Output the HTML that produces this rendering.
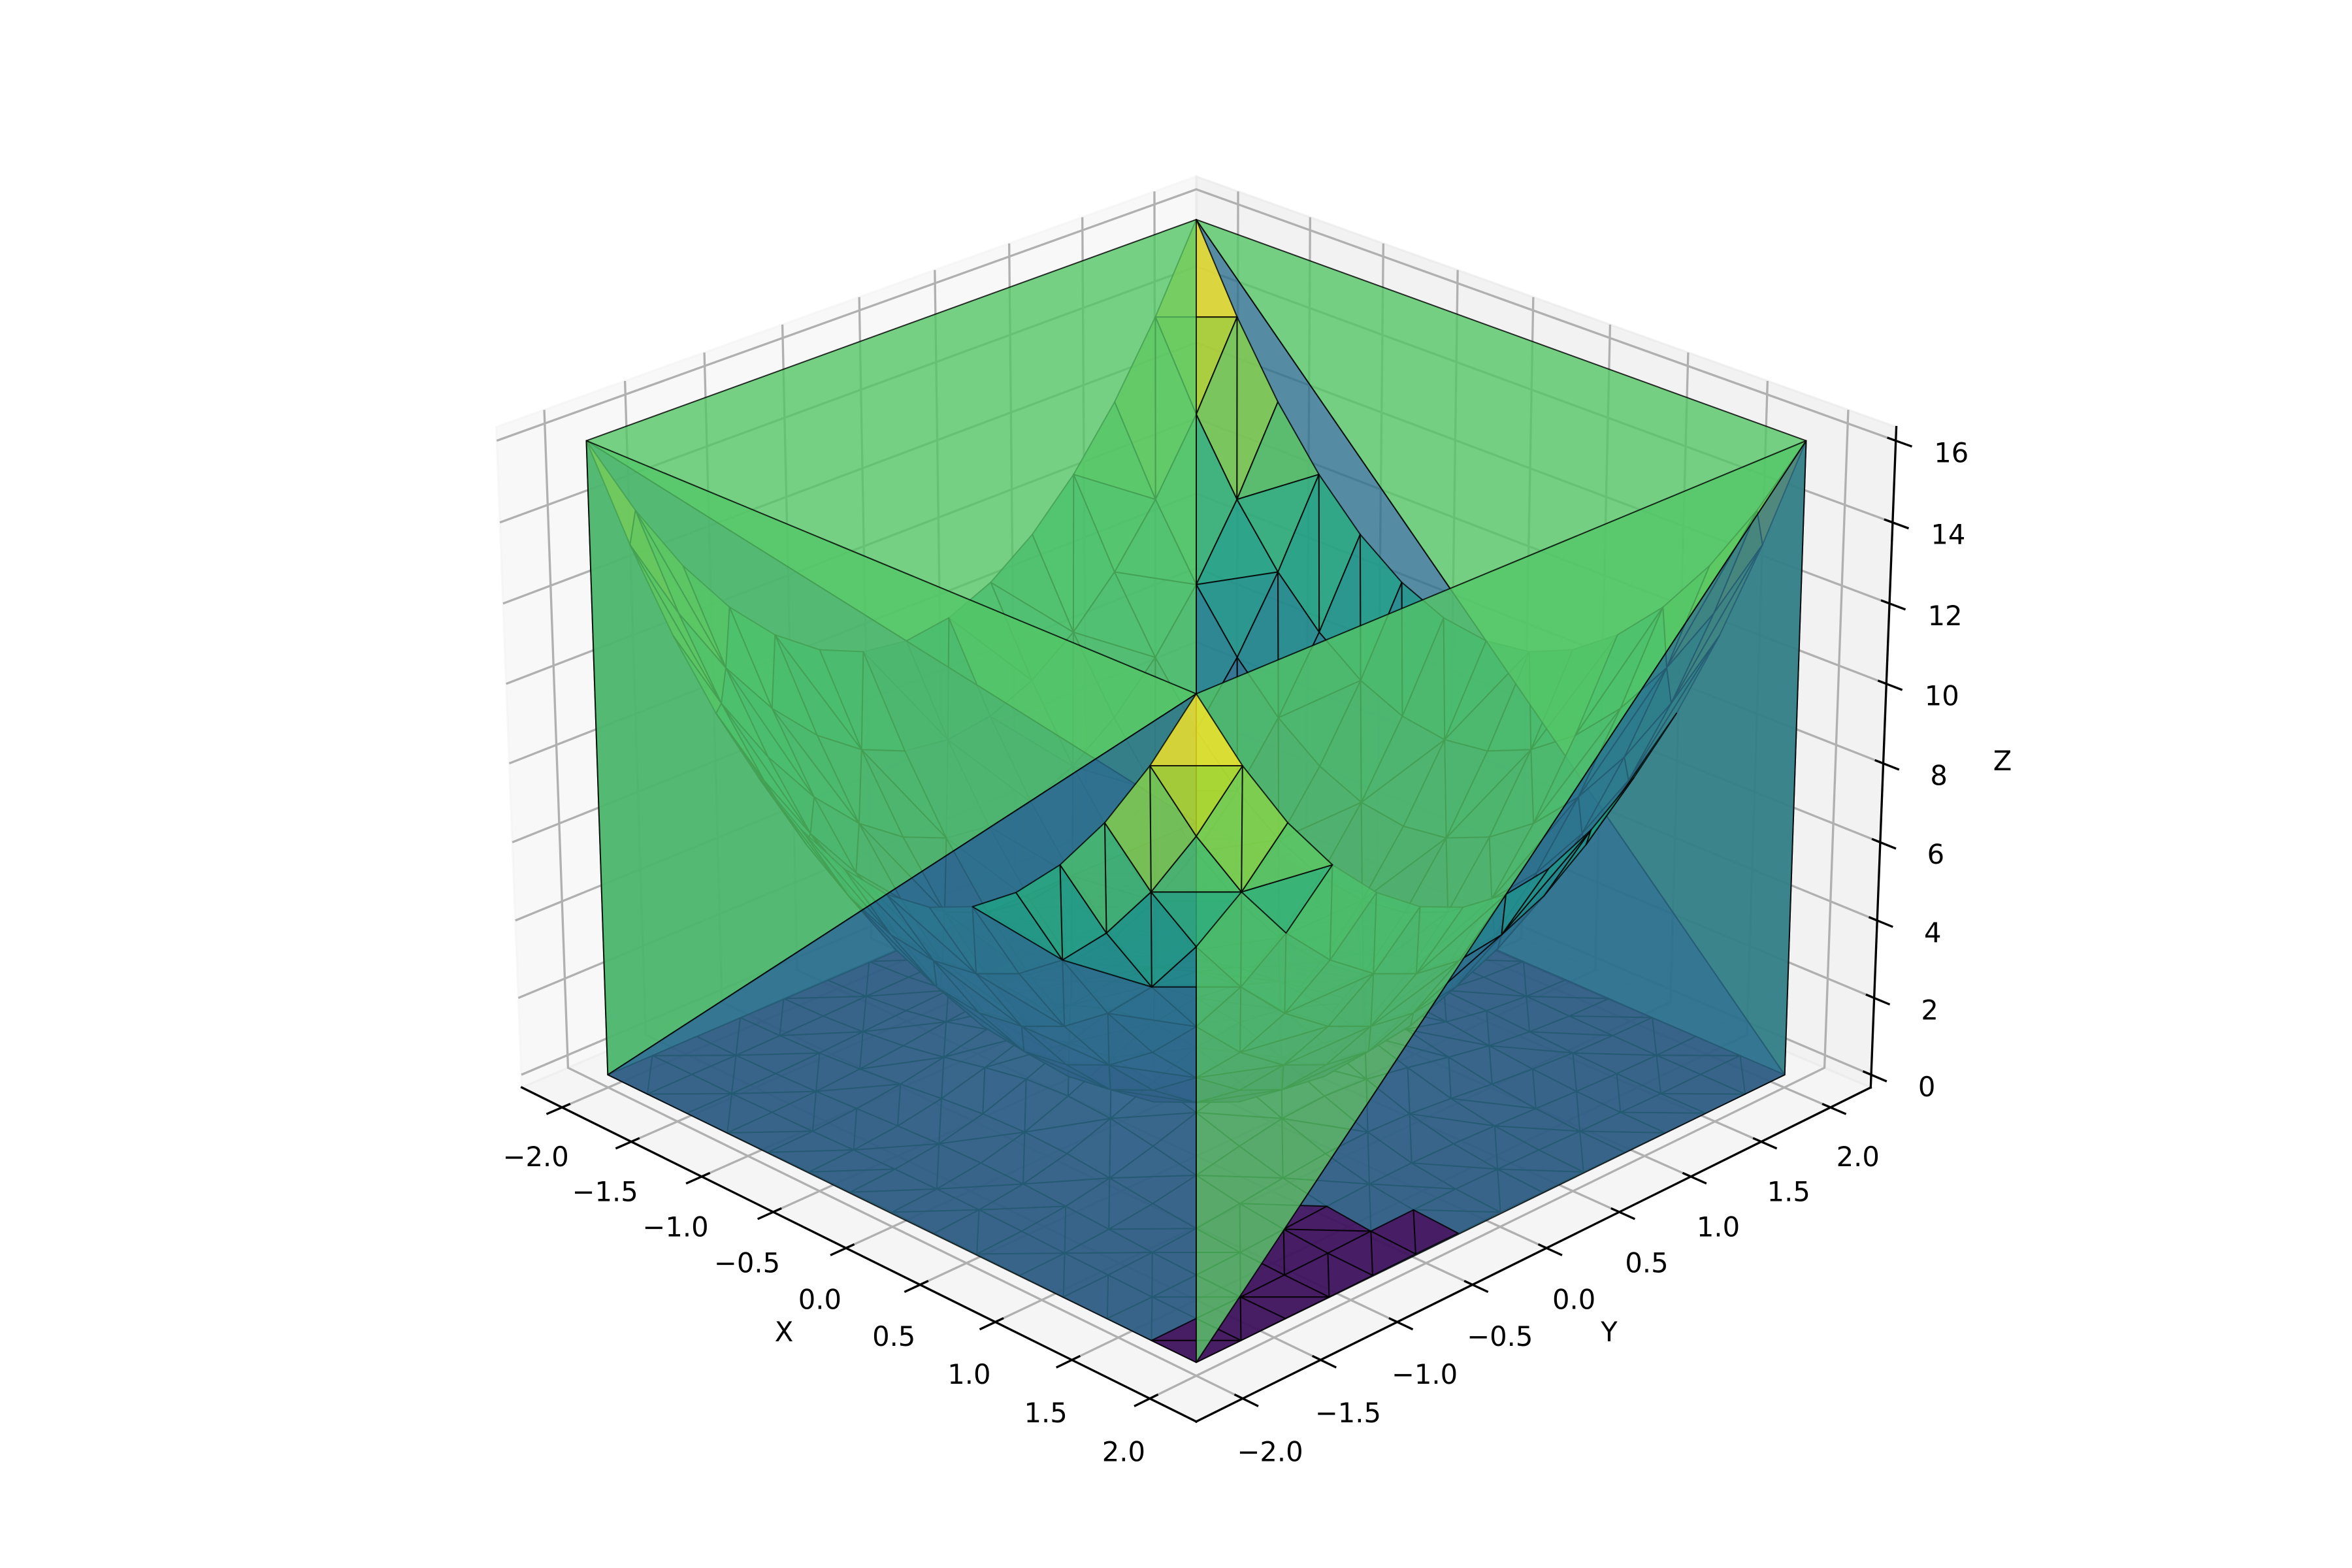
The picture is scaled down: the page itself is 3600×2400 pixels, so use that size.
<!DOCTYPE html>
<html lang="en">
<head>
<meta charset="utf-8">
<title>3D triangulated surface</title>
<style>
html,body{margin:0;padding:0;background:#fff;}
svg{display:block;}
text{font-family:"DejaVu Sans",sans-serif;font-size:41.67px;fill:#000;}
</style>
</head>
<body>
<svg id="chart" xmlns="http://www.w3.org/2000/svg" width="3600" height="2400" viewBox="0 0 3600 2400">
  <rect x="0" y="0" width="3600" height="2400" fill="#ffffff"/>
  <g id="panes"></g>
  <g id="grid"></g>
  <g id="axes"></g>
  <g id="surface"></g>
  <g id="labels"></g>
  <text x="1200" y="2053" text-anchor="middle">X</text>
  <text x="2463" y="2053" text-anchor="middle">Y</text>
  <text x="3065" y="1179" text-anchor="middle">Z</text>
</svg>
<script>
const xGrid = [-2,-1.714,-1.429,-1.143,-0.857,-0.571,-0.286,0,0.286,0.571,0.857,1.143,1.429,1.714,2];
const yGrid = [-2,-1.714,-1.429,-1.143,-0.857,-0.571,-0.286,0,0.286,0.571,0.857,1.143,1.429,1.714,2];
const bowlZ = [
[16,13.88,12.08,10.61,9.47,8.65,8.16,8,8.16,8.65,9.47,10.61,12.08,13.88,16],
[13.88,11.76,9.96,8.49,7.35,6.53,6.04,5.88,6.04,6.53,7.35,8.49,9.96,11.76,13.88],
[12.08,9.96,8.16,6.69,5.55,4.73,4.24,4.08,4.24,4.73,5.55,6.69,8.16,9.96,12.08],
[10.61,8.49,6.69,5.22,4.08,3.26,2.77,2.61,2.77,3.26,4.08,5.22,6.69,8.49,10.61],
[9.47,7.35,5.55,4.08,2.94,2.12,1.63,1.47,1.63,2.12,2.94,4.08,5.55,7.35,9.47],
[8.65,6.53,4.73,3.26,2.12,1.30,0.81,0.65,0.81,1.30,2.12,3.26,4.73,6.53,8.65],
[8.16,6.04,4.24,2.77,1.63,0.81,0.33,0.16,0.33,0.81,1.63,2.77,4.24,6.04,8.16],
[8,5.88,4.08,2.61,1.47,0.65,0.16,0,0.16,0.65,1.47,2.61,4.08,5.88,8],
[8.16,6.04,4.24,2.77,1.63,0.81,0.33,0.16,0.33,0.81,1.63,2.77,4.24,6.04,8.16],
[8.65,6.53,4.73,3.26,2.12,1.30,0.81,0.65,0.81,1.30,2.12,3.26,4.73,6.53,8.65],
[9.47,7.35,5.55,4.08,2.94,2.12,1.63,1.47,1.63,2.12,2.94,4.08,5.55,7.35,9.47],
[10.61,8.49,6.69,5.22,4.08,3.26,2.77,2.61,2.77,3.26,4.08,5.22,6.69,8.49,10.61],
[12.08,9.96,8.16,6.69,5.55,4.73,4.24,4.08,4.24,4.73,5.55,6.69,8.16,9.96,12.08],
[13.88,11.76,9.96,8.49,7.35,6.53,6.04,5.88,6.04,6.53,7.35,8.49,9.96,11.76,13.88],
[16,13.88,12.08,10.61,9.47,8.65,8.16,8,8.16,8.65,9.47,10.61,12.08,13.88,16]
];
const floorZ = [
[0,0,0.01,0.01,0.02,0.03,0.03,0.04,0.03,0.03,0.02,0.01,0.01,0,0],
[0,0.01,0.01,0.03,0.05,0.08,0.10,0.11,0.10,0.08,0.05,0.03,0.01,0.01,0],
[0.01,0.01,0.03,0.07,0.13,0.19,0.24,0.26,0.24,0.19,0.13,0.07,0.03,0.01,0.01],
[0.01,0.03,0.07,0.15,0.26,0.39,0.50,0.54,0.50,0.39,0.26,0.15,0.07,0.03,0.01],
[0.02,0.05,0.13,0.26,0.46,0.69,0.89,0.96,0.89,0.69,0.46,0.26,0.13,0.05,0.02],
[0.03,0.08,0.19,0.39,0.69,1.04,1.33,1.45,1.33,1.04,0.69,0.39,0.19,0.08,0.03],
[0.03,0.10,0.24,0.50,0.89,1.33,1.70,1.85,1.70,1.33,0.89,0.50,0.24,0.10,0.03],
[0.04,0.11,0.26,0.54,0.96,1.45,1.85,2,1.85,1.45,0.96,0.54,0.26,0.11,0.04],
[0.03,0.10,0.24,0.50,0.89,1.33,1.70,1.85,1.70,1.33,0.89,0.50,0.24,0.10,0.03],
[0.03,0.08,0.19,0.39,0.69,1.04,1.33,1.45,1.33,1.04,0.69,0.39,0.19,0.08,0.03],
[0.02,0.05,0.13,0.26,0.46,0.69,0.89,0.96,0.89,0.69,0.46,0.26,0.13,0.05,0.02],
[0.01,0.03,0.07,0.15,0.26,0.39,0.50,0.54,0.50,0.39,0.26,0.15,0.07,0.03,0.01],
[0.01,0.01,0.03,0.07,0.13,0.19,0.24,0.26,0.24,0.19,0.13,0.07,0.03,0.01,0.01],
[0,0.01,0.01,0.03,0.05,0.08,0.10,0.11,0.10,0.08,0.05,0.03,0.01,0.01,0],
[0,0,0.01,0.01,0.02,0.03,0.03,0.04,0.03,0.03,0.02,0.01,0.01,0,0]
];
/* Cell diagonals, row = steps back from x = 2, column = steps from y = -2. */
const cellDiagonals = [
"HVHVVVHVHVHHHV",
"VHVVHVHHVHVVVH",
"VVHVHHVVHHVVHV",
"VHHVHVHVVVVHHH",
"HVVHVHVHVHHVVH",
"VHHVHVHVHVHVHV",
"HHVHVHVHVHVHVH",
"HVHVVHVHHVHVHV",
"HHVVHVHVHHVHVV",
"HVVVHHVHVHHVHV",
"HVHHVHHVHVHVVV",
"VHVVHVHHVHVVHH",
"HVHHVHVHHVHHVV",
"VHVVHVHVHHVHVH"
];
/* Long wall triangles: [sheet, x index, y index] for each corner; b = bowl, f = floor. */
const wallTriangles = [
[["b",0,0],["b",14,0],["f",0,0]],
[["b",14,0],["f",14,0],["f",0,0]],
[["b",14,0],["b",14,14],["f",14,0]],
[["b",14,14],["f",14,14],["f",14,0]],
[["b",0,0],["b",0,14],["f",0,14]],
[["b",0,0],["f",0,0],["f",0,14]],
[["b",0,14],["b",14,14],["f",14,14]],
[["b",0,14],["f",0,14],["f",14,14]]
];
const xTicks = [-2,-1.5,-1,-0.5,0,0.5,1,1.5,2];
const yTicks = [-2,-1.5,-1,-0.5,0,0.5,1,1.5,2];
const zTicks = [0,2,4,6,8,10,12,14,16];
const xTickLabels = ["\u22122.0","\u22121.5","\u22121.0","\u22120.5","0.0","0.5","1.0","1.5","2.0"];
const yTickLabels = ["\u22122.0","\u22121.5","\u22121.0","\u22120.5","0.0","0.5","1.0","1.5","2.0"];
const zTickLabels = ["0","2","4","6","8","10","12","14","16"];
const surfaceAlpha = 0.8;
const viridisStops = ["#440154","#471365","#482475","#463480","#414487","#3b528b","#355f8d","#2f6c8e","#2a788e","#25848e","#21918c","#1f9e89","#22a884","#2fb47c","#44bf70","#5ec962","#7ad151","#9bd93c","#bddf26","#dfe318","#fde725"];

/* Camera: a symmetric perspective projection. */
const cam = {cx:1831, cy:1168.5, A:458.4, B:193.75, C:485.1, alpha:0.03305, beta:0.01791, sortBeta:0.0181};
const edge = 2.294, zLow = -0.333, zHigh = 16.333;
const tickIn = 0.046, tickOut = 0.092;
const NS = "http://www.w3.org/2000/svg";

function depthW(x,y,z){
  const xn=x/2, yn=y/2, zn=(z-8)/8;
  return 1-cam.alpha*(xn-yn)-cam.beta*zn;
}
function sortW(x,y,z){
  const xn=x/2, yn=y/2, zn=(z-8)/8;
  return 1-cam.alpha*(xn-yn)-cam.sortBeta*zn;
}
function project(x,y,z){
  const xn=x/2, yn=y/2, zn=(z-8)/8;
  const w=depthW(x,y,z);
  return [cam.cx+cam.A*(xn+yn)/w, cam.cy+(cam.B*(xn-yn)-cam.C*zn)/w];
}
function pointsAttr(list){
  return list.map(function(p){const q=project(p[0],p[1],p[2]);return q[0].toFixed(2)+","+q[1].toFixed(2);}).join(" ");
}
function viridis(t){
  t=Math.max(0,Math.min(1,t));
  const f=t*(viridisStops.length-1), i=Math.min(Math.floor(f),viridisStops.length-2), u=f-i;
  const a=viridisStops[i], b=viridisStops[i+1];
  const ch=function(s,o){return parseInt(s.substr(o,2),16);};
  const mix=function(o){return Math.round(ch(a,o)+(ch(b,o)-ch(a,o))*u);};
  return "rgb("+mix(1)+","+mix(3)+","+mix(5)+")";
}
function vertex(sheet,xi,yj){
  return [xGrid[xi],yGrid[yj],(sheet==="b"?bowlZ:floorZ)[xi][yj]];
}
function shape(tag,parent,attrs){
  const el=document.createElementNS(NS,tag);
  for(const k in attrs){el.setAttribute(k,attrs[k]);}
  parent.appendChild(el);
  return el;
}

/* Panes */
const panesG=document.getElementById("panes");
const paneX=shape("polygon",panesG,{points:pointsAttr([[-edge,-edge,zLow],[-edge,edge,zLow],[-edge,edge,zHigh],[-edge,-edge,zHigh]]),fill:"rgb(242,242,242)","fill-opacity":0.5,stroke:"rgb(242,242,242)","stroke-opacity":0.5,"stroke-width":3.3});


const paneY=shape("polygon",panesG,{points:pointsAttr([[-edge,edge,zLow],[edge,edge,zLow],[edge,edge,zHigh],[-edge,edge,zHigh]]),fill:"rgb(230,230,230)","fill-opacity":0.5,stroke:"rgb(230,230,230)","stroke-opacity":0.5,"stroke-width":3.3});


const paneZ=shape("polygon",panesG,{points:pointsAttr([[-edge,-edge,zLow],[edge,-edge,zLow],[edge,edge,zLow],[-edge,edge,zLow]]),fill:"rgb(236,236,236)","fill-opacity":0.5,stroke:"rgb(236,236,236)","stroke-opacity":0.5,"stroke-width":3.3});



/* Grid */
const gridG=document.getElementById("grid");
const gridStyle={fill:"none",stroke:"#b0b0b0","stroke-width":3.33};
function gridLine(list){
  return shape("polyline",gridG,Object.assign({points:pointsAttr(list)},gridStyle));
}
xTicks.forEach(function(x){
  const g=gridLine([[x,-edge,zLow],[x,edge,zLow],[x,edge,zHigh]]);
  
  
});
yTicks.forEach(function(y){
  const g=gridLine([[edge,y,zLow],[-edge,y,zLow],[-edge,y,zHigh]]);
  
  
});
zTicks.forEach(function(z){
  const g=gridLine([[-edge,-edge,z],[-edge,edge,z],[edge,edge,z]]);
  
  
});

/* Axis lines and tick marks */
const axesG=document.getElementById("axes");
const axisStyle={fill:"none",stroke:"#000","stroke-width":3.33,"stroke-linecap":"square"};
function axisLine(list){
  return shape("polyline",axesG,Object.assign({points:pointsAttr(list)},axisStyle));
}
const xAxisLine=axisLine([[-edge,-edge,zLow],[edge,-edge,zLow]]);


const yAxisLine=axisLine([[edge,-edge,zLow],[edge,edge,zLow]]);


const zAxisLine=axisLine([[edge,edge,zLow],[edge,edge,zHigh]]);



const labelsG=document.getElementById("labels");
function tickLabel(point,dx,dy,str){
  const q=project(point[0],point[1],point[2]);
  const t=shape("text",labelsG,{x:(q[0]+dx).toFixed(1),y:(q[1]+dy+15).toFixed(1),"text-anchor":"middle"});
  t.textContent=str;
  return t;
}
xTicks.forEach(function(x,i){
  const m=axisLine([[x,-edge+tickIn,zLow],[x,-edge-tickOut,zLow]]);
  
  
  const t=tickLabel([x,-edge,zLow],-40,75+(x+2)*1.5,xTickLabels[i]);
  
  
});
yTicks.forEach(function(y,i){
  const m=axisLine([[edge-tickIn,y,zLow],[edge+tickOut,y,zLow]]);
  
  
  const t=tickLabel([edge,y,zLow],42,75+(2-y)*1.5,yTickLabels[i]);
  
  
});
zTicks.forEach(function(z,i){
  const m=axisLine([[edge-tickIn,edge,z],[edge+tickOut,edge,z]]);
  
  
  const t=tickLabel([edge,edge,z],85,18,zTickLabels[i]);
  
  
});

/* Triangles */
const facets=[];
["b","f"].forEach(function(sheet){
  cellDiagonals.forEach(function(row,i){
    for(let j=0;j<row.length;j++){
      const a=vertex(sheet,14-i,j), b=vertex(sheet,13-i,j), c=vertex(sheet,14-i,j+1), d=vertex(sheet,13-i,j+1);
      if(row.charAt(j)==="H"){
        facets.push([a,b,c]);
        facets.push([d,b,c]);
      }else{
        facets.push([a,b,d]);
        facets.push([a,c,d]);
      }
    }
  });
});
wallTriangles.forEach(function(tri){
  facets.push(tri.map(function(v){return vertex(v[0],v[1],v[2]);}));
});
const facetMeans=facets.map(function(t){return (t[0][2]+t[1][2]+t[2][2])/3;});
const meanMin=Math.min.apply(null,facetMeans), meanMax=Math.max.apply(null,facetMeans);
const order=facets.map(function(t,i){
  const k=(1/sortW(t[0][0],t[0][1],t[0][2])+1/sortW(t[1][0],t[1][1],t[1][2])+1/sortW(t[2][0],t[2][1],t[2][2]))/3;
  return {i:i,k:k};
}).sort(function(p,q){return p.k-q.k;});
const surfaceG=document.getElementById("surface");
order.forEach(function(o){
  const tri=facets[o.i];
  const el=shape("polygon",surfaceG,{
    points:pointsAttr(tri),
    fill:viridis((facetMeans[o.i]-meanMin)/(meanMax-meanMin)),
    "fill-opacity":surfaceAlpha,
    stroke:"#000",
    "stroke-opacity":surfaceAlpha,
    "stroke-width":2,
    "stroke-linejoin":"round"
  });
  
  
});
</script>
</body>
</html>
